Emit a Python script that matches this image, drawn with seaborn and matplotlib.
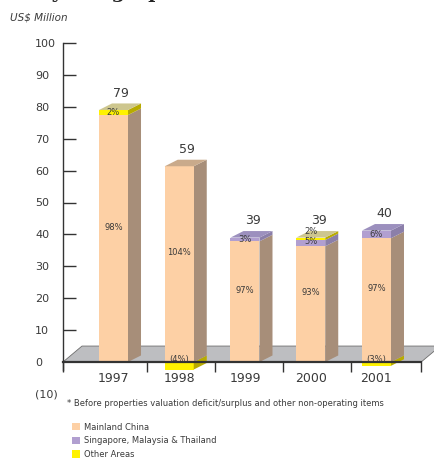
import numpy as np
import pandas as pd
import matplotlib
matplotlib.use("Agg")
import matplotlib.pyplot as plt
from matplotlib.patches import Polygon, Patch
import seaborn as sns

# ---------------- data ----------------
years = ["1997", "1998", "1999", "2000", "2001"]
totals = [79, 59, 39, 39, 40]
mainland_pct = [98, 104, 97, 93, 97]
sea_pct = [0, 0, 3, 5, 6]
other_pct = [2, -4, 0, 2, -3]
series = ["Mainland China", "Singapore, Malaysia & Thailand", "Other Areas"]
ytick_values = [-10, 0, 10, 20, 30, 40, 50, 60, 70, 80, 90, 100]
ytick_labels = ["(10)", "0", "10", "20", "30", "40", "50", "60", "70", "80", "90", "100"]
footnote = "* Before properties valuation deficit/surplus and other non-operating items"
unit_label = "US$ Million"
title_text = "by Geographical Area"

# ---------------- style ----------------
front = {"main": "#fdd0a5", "sea": "#b19fd0", "other": "#fff200"}
side = {"main": "#a78e79", "sea": "#8b7fa9", "other": "#b8ab00"}
top_c = {"main": "#c9aa8b", "sea": "#9c90be", "other": "#cdc68e"}
txt = "#3a3a3a"
W, H = 434, 459
bar_w = 0.441
dx, dy = 0.198, 2.05

sns.set_theme(style="white")
plt.rcParams["font.family"] = ["DejaVu Sans"]

mainland = [t * p / 100 for t, p in zip(totals, mainland_pct)]
sea = [t * p / 100 for t, p in zip(totals, sea_pct)]
other = [t * p / 100 for t, p in zip(totals, other_pct)]

fig = plt.figure(figsize=(W / 100, H / 100), dpi=100)
ax = fig.add_axes([63 / W, 1 - 393.9 / H, (W - 63) / W, (393.9 - 43) / H])

# floor
floor = Polygon([(-0.768, 0), (-0.479, 5.0), (4.97, 5.0), (4.68, 0)],
                closed=True, facecolor="#bdbec1", edgecolor="#6d6d6d", lw=0.6, zorder=0.5)
ax.add_patch(floor)

# front faces: mainland via seaborn
df = pd.DataFrame({"year": years, "value": mainland})
sns.barplot(data=df, x="year", y="value", color=front["main"], saturation=1,
            width=bar_w, ax=ax, edgecolor="none", linewidth=0, zorder=2)
xs = np.arange(len(years))
pos_other = [max(o, 0) for o in other]
neg_other = [min(o, 0) for o in other]
ax.bar(xs, sea, width=bar_w, bottom=mainland, color=front["sea"], lw=0, zorder=2)
ax.bar(xs, pos_other, width=bar_w, bottom=np.array(mainland) + np.array(sea),
       color=front["other"], lw=0, zorder=2)
ax.bar(xs, neg_other, width=bar_w, bottom=0, color=front["other"], lw=0, zorder=1.8)

# side and top faces
for i in range(len(years)):
    x0, x1 = i - bar_w / 2, i + bar_w / 2
    segs = []
    if neg_other[i] < 0:
        segs.append((neg_other[i], 0, "other"))
    b = 0
    for val, key in [(mainland[i], "main"), (sea[i], "sea"), (pos_other[i], "other")]:
        if val > 0:
            segs.append((b, b + val, key))
            b += val
    for y0, y1, key in segs:
        ax.add_patch(Polygon([(x1, y0), (x1 + dx, y0 + dy), (x1 + dx, y1 + dy), (x1, y1)],
                             closed=True, facecolor=side[key], lw=0, zorder=1.9))
    topkey = [s for s in segs if s[1] > 0][-1][2]
    ax.add_patch(Polygon([(x0, b), (x0 + dx, b + dy), (x1 + dx, b + dy), (x1, b)],
                         closed=True, facecolor=top_c[topkey], lw=0, zorder=2.1))
    # total labels
    ax.text(i + 0.12, b + dy + 3.2, str(totals[i]), ha="center", va="center",
            fontsize=9, color=txt, zorder=5)
    # mainland pct label
    ax.text(i, mainland[i] / 2 + 3.5, f"{mainland_pct[i]}%", ha="center", va="center",
            fontsize=6, color=txt, zorder=5)
    # SEA label
    if sea_pct[i] > 0:
        off = 0.6 if other_pct[i] > 0 else 0.0
        ax.text(i, mainland[i] + sea[i] / 2 + off, f"{sea_pct[i]}%", ha="center",
                va="center", fontsize=6, color=txt, zorder=5)
    if other_pct[i] > 0:
        off = 2.4 if sea_pct[i] > 0 else 0.0
        ax.text(i, mainland[i] + sea[i] + pos_other[i] / 2 + off, f"{other_pct[i]}%",
                ha="center", va="center", fontsize=6, color=txt, zorder=5)
    elif other_pct[i] < 0:
        ax.text(i, 0.9, f"({-other_pct[i]}%)", ha="center", va="center",
                fontsize=6, color=txt, zorder=5)

# axes styling
ax.set_xlim(-0.768, 4.875)
ax.set_ylim(-10, 100)
ax.set_xlabel("")
ax.set_ylabel("")
ax.grid(False)
ax.set_facecolor("none")
for s in ["top", "right"]:
    ax.spines[s].set_visible(False)
ax.spines["left"].set_bounds(-2.5, 100)
ax.spines["left"].set_color("#333333")
ax.spines["left"].set_linewidth(1.0)
ax.spines["bottom"].set_position(("data", 0))
ax.spines["bottom"].set_bounds(-0.768, 4.68)
ax.spines["bottom"].set_color("#333333")
ax.spines["bottom"].set_linewidth(1.6)
ax.spines["bottom"].set_zorder(3)

ax.set_xticks([-0.768, 0.51, 1.544, 2.578, 3.612, 4.677])
ax.set_xticklabels([])
ax.set_xticks(xs, minor=True)
ax.set_xticklabels(years, minor=True)
ax.tick_params(axis="x", which="major", direction="out", length=7, width=1,
               color="#333333", bottom=True)
ax.tick_params(axis="x", which="minor", length=0, pad=7, labelsize=9,
               labelcolor=txt, bottom=True)

ax.set_yticks(ytick_values)
ax.set_yticklabels(ytick_labels)
ax.tick_params(axis="y", direction="in", length=9, width=1, color="#333333",
               pad=20.2, labelsize=8, labelcolor=txt, left=True)
for lab in ax.get_yticklabels():
    lab.set_horizontalalignment("left")
yt = ax.yaxis.get_major_ticks()
yt[0].tick1line.set_visible(False)
yt[1].tick1line.set_visible(False)

# texts
fig.text(10 / W, 1 - 18 / H, unit_label, fontsize=7.5, style="italic", color=txt,
         va="center", ha="left")
fig.text(38 / W, 1 + 1.5 / H, title_text, fontsize=14, family="DejaVu Serif", weight="bold",
         color="#222222", va="baseline", ha="left")
fig.text(67 / W, 1 - 404 / H, footnote, fontsize=6, color=txt, va="center", ha="left")

handles = [Patch(facecolor=front["main"], lw=0), Patch(facecolor=front["sea"], lw=0),
           Patch(facecolor=front["other"], lw=0)]
leg = fig.legend(handles, series, loc="upper left", bbox_to_anchor=(72 / W, 1 - 422.5 / H),
                 frameon=False, fontsize=6, handlelength=1.0, handleheight=1.0,
                 handletextpad=0.5, labelspacing=0.55, borderpad=0, borderaxespad=0)
for t in leg.get_texts():
    t.set_color(txt)

fig.savefig("out.png", dpi=100)
